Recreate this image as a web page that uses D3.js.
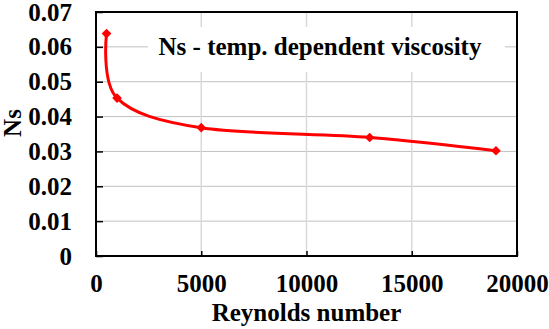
<!DOCTYPE html>
<html lang="en">
<head>
    <meta charset="UTF-8">
    <title>Ns - temp. dependent viscosity</title>
    <script src="https://d3js.org/d3.v7.min.js"></script>
    <style>
        body {
            margin: 0;
            padding: 0;
            overflow: hidden;
            background-color: #fff;
        }
    </style>
</head>
<body>
    <div id="chart"></div>
    <script>
        // Data
        const reynolds = [500, 1000, 5000, 13000, 19000];
        const ns = [0.0638, 0.0453, 0.0368, 0.034, 0.0302];
        const xTicks = [0, 5000, 10000, 15000, 20000];
        const yTicks = [0, 0.01, 0.02, 0.03, 0.04, 0.05, 0.06, 0.07];
        const seriesName = "Ns - temp. dependent viscosity";

        const width = 549;
        const height = 329;
        const margin = {top: 12, right: 32, bottom: 73, left: 96};
        const serif = "'Liberation Serif', 'Times New Roman', Times, serif";

        const svg = d3.select("#chart")
            .append("svg")
            .attr("width", width)
            .attr("height", height)
            .style("font-family", serif)
            .style("font-weight", "bold");

        const x = d3.scaleLinear()
            .domain([0, 20000])
            .range([margin.left, width - margin.right]);

        const y = d3.scaleLinear()
            .domain([0, 0.07])
            .range([height - margin.bottom, margin.top]);

        // Gridlines
        svg.append("g")
            .selectAll("line")
            .data(yTicks.slice(1, -1))
            .join("line")
            .attr("x1", x(0))
            .attr("x2", x(20000))
            .attr("y1", d => y(d))
            .attr("y2", d => y(d))
            .attr("stroke", "#c0c0c0")
            .attr("stroke-width", 1);

        svg.append("g")
            .selectAll("line")
            .data(xTicks.slice(1, -1))
            .join("line")
            .attr("x1", d => x(d))
            .attr("x2", d => x(d))
            .attr("y1", y(0))
            .attr("y2", y(0.07))
            .attr("stroke", "#d9d9d9")
            .attr("stroke-width", 1.5);

        // Axes with inward ticks
        const xAxis = d3.axisBottom(x)
            .tickValues(xTicks)
            .tickSize(-5)
            .tickPadding(18)
            .tickFormat(d3.format("d"));

        const yAxis = d3.axisLeft(y)
            .tickValues(yTicks)
            .tickSize(-7)
            .tickPadding(24)
            .tickFormat(d => d === 0 ? "0" : d3.format(".2f")(d));

        const gx = svg.append("g")
            .attr("transform", `translate(0,${y(0)})`)
            .call(xAxis);
        const gy = svg.append("g")
            .attr("transform", `translate(${x(0)},0)`)
            .call(yAxis);

        [gx, gy].forEach(g => {
            g.attr("font-family", null).attr("font-size", null);
            g.select(".domain").remove();
            g.selectAll(".tick line").attr("stroke", "#000").attr("stroke-width", 1.5);
            g.selectAll(".tick text")
                .attr("fill", "#000")
                .style("font-family", serif)
                .style("font-size", "25px");
        });

        // Plot frame
        svg.append("rect")
            .attr("x", x(0))
            .attr("y", y(0.07))
            .attr("width", x(20000) - x(0))
            .attr("height", y(0) - y(0.07))
            .attr("fill", "none")
            .attr("stroke", "#000")
            .attr("stroke-width", 2);

        // Legend box (white, hides gridlines)
        svg.append("rect")
            .attr("x", 148)
            .attr("y", 27)
            .attr("width", 357)
            .attr("height", 45)
            .attr("fill", "#fff");

        svg.append("text")
            .attr("x", 320)
            .attr("y", 55)
            .attr("text-anchor", "middle")
            .style("font-size", "25px")
            .text(seriesName);

        // Series line
        const points = reynolds.map((r, i) => [r, ns[i]]);

        const line = d3.line()
            .x(d => x(d[0]))
            .y(d => y(d[1]))
            .curve(d3.curveCardinal.tension(0));

        svg.append("path")
            .datum(points)
            .attr("fill", "none")
            .attr("stroke", "#ff0000")
            .attr("stroke-width", 3)
            .attr("d", line);

        svg.selectAll(".marker")
            .data(points)
            .join("path")
            .attr("class", "marker")
            .attr("transform", d => `translate(${x(d[0])},${y(d[1])})`)
            .attr("d", d3.symbol(d3.symbolDiamond2, 60))
            .attr("fill", "#ff0000");

        // Axis titles
        svg.append("text")
            .attr("x", (x(0) + x(20000)) / 2)
            .attr("y", 321)
            .attr("text-anchor", "middle")
            .style("font-size", "25px")
            .text("Reynolds number");

        svg.append("text")
            .attr("transform", "translate(21,123) rotate(-90)")
            .attr("text-anchor", "middle")
            .style("font-size", "25px")
            .text("Ns");
    </script>
</body>
</html>
